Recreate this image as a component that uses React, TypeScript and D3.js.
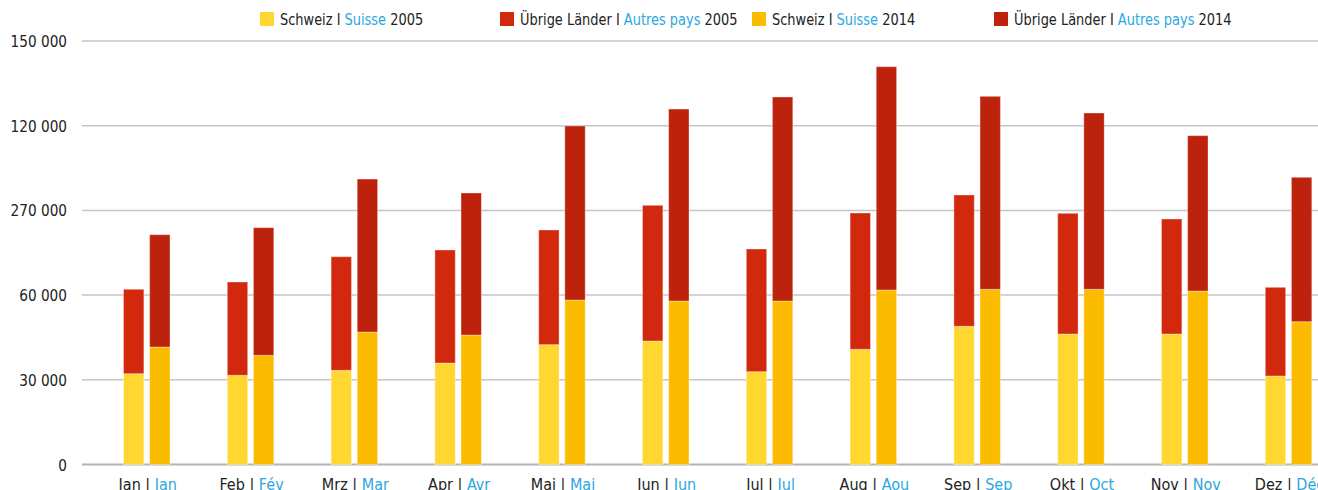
import React from 'react';
import * as d3 from 'd3';

// months, German | French
const monthsDe = ['Jan', 'Feb', 'Mrz', 'Apr', 'Mai', 'Jun', 'Jul', 'Aug', 'Sep', 'Okt', 'Nov', 'Dez'];
const monthsFr = ['Jan', 'Fév', 'Mar', 'Avr', 'Mai', 'Jun', 'Jul', 'Aou', 'Sep', 'Oct', 'Nov', 'Déc'];

// Schweiz (domestic) and total per month
const schweiz2005 = [32160, 31590, 33360, 35950, 42440, 43740, 32870, 40800, 48950, 46220, 46220, 31350];
const total2005 = [62060, 64640, 73600, 75980, 83060, 91800, 76330, 89080, 95460, 88970, 86960, 62760];
const schweiz2014 = [41620, 38670, 46930, 45870, 58270, 57910, 57910, 61810, 62050, 62050, 61450, 50580];
const total2014 = [81400, 83880, 101100, 96170, 119900, 125900, 130170, 140900, 130400, 124500, 116470, 101720];

const yTicks = [0, 30000, 60000, 90000, 120000, 150000];
const yTickLabels = ['0', '30 000', '60 000', '270 000', '120 000', '150 000'];

const years = ['2005', '2014'];

const C = {
  ch05: '#FFD730',
  ot05: '#D2290E',
  ch14: '#FBBC00',
  ot14: '#BD220C',
  blue: '#2AA8E0',
  text: '#222222',
  grid: '#c6c6c6',
};

const FONT = '"DejaVu Sans Condensed", "DejaVu Sans", sans-serif';

const legend = [
  { x: 260, color: C.ch05, de: 'Schweiz I ', fr: 'Suisse', year: ' 2005' },
  { x: 500, color: C.ot05, de: 'Übrige Länder I ', fr: 'Autres pays', year: ' 2005' },
  { x: 752, color: C.ch14, de: 'Schweiz I ', fr: 'Suisse', year: ' 2014' },
  { x: 994, color: C.ot14, de: 'Übrige Länder I ', fr: 'Autres pays', year: ' 2014' },
];

const App = () => {
  const width = 1318;
  const height = 490;
  const gridLeft = 82;
  const step = 103.8;
  const pairWidth = 46.5;
  const bandStart = 146.75 - step / 2;

  const x = d3
    .scaleBand<string>()
    .domain(monthsDe)
    .range([bandStart, bandStart + step * monthsDe.length])
    .padding(0);
  const x1 = d3.scaleBand<string>().domain(years).range([0, pairWidth]).paddingInner(0.22);
  const y = d3.scaleLinear().domain([0, 150000]).range([464.5, 41]);

  const pairOffset = (x.bandwidth() - pairWidth) / 2;

  const bars = monthsDe.flatMap((m, i) => {
    const bx = (x(m) || 0) + pairOffset;
    return [
      { key: m + 'a', x: bx + (x1('2005') || 0), y0: 0, y1: schweiz2005[i], fill: C.ch05 },
      { key: m + 'b', x: bx + (x1('2005') || 0), y0: schweiz2005[i], y1: total2005[i], fill: C.ot05 },
      { key: m + 'c', x: bx + (x1('2014') || 0), y0: 0, y1: schweiz2014[i], fill: C.ch14 },
      { key: m + 'd', x: bx + (x1('2014') || 0), y0: schweiz2014[i], y1: total2014[i], fill: C.ot14 },
    ];
  });

  return (
    <svg
      width={width}
      height={height}
      style={{ position: 'absolute', left: 0, top: 0, background: '#fff', fontStretch: 'condensed' }}
      fontFamily={FONT}
    >
      {/* grid */}
      {yTicks.map((t, i) => (
        <g key={t}>
          <line
            x1={gridLeft}
            x2={width}
            y1={y(t)}
            y2={y(t)}
            stroke={t === 0 ? '#b4b4b4' : C.grid}
            strokeWidth={t === 0 ? 2 : 1.5}
          />
          <text
            transform={`translate(67,${y(t) + 6}) scale(0.92,1)`}
            textAnchor="end"
            fontSize={16.5}
            fill={C.text}
          >
            {yTickLabels[i]}
          </text>
        </g>
      ))}

      {/* bars */}
      {bars.map((b) => (
        <rect
          key={b.key}
          x={b.x}
          width={x1.bandwidth()}
          y={y(b.y1)}
          height={y(b.y0) - y(b.y1)}
          fill={b.fill}
          stroke="rgba(255,255,255,0.35)"
          strokeWidth={1}
        />
      ))}

      {/* month labels */}
      {monthsDe.map((m, i) => (
        <text
          key={m}
          x={(x(m) || 0) + x.bandwidth() / 2 + 1}
          y={490}
          textAnchor="middle"
          fontSize={16}
          fill={C.text}
        >
          {m + ' | '}
          <tspan fill={C.blue}>{monthsFr[i]}</tspan>
        </text>
      ))}

      {/* legend */}
      {legend.map((l) => (
        <g key={l.de + l.year}>
          <rect x={l.x} y={12} width={14} height={14} fill={l.color} />
          <text transform={`translate(${l.x + 20},25) scale(0.9,1)`} fontSize={16} fill={C.text}>
            {l.de}
            <tspan fill={C.blue}>{l.fr}</tspan>
            {l.year}
          </text>
        </g>
      ))}
    </svg>
  );
};

export default App;
